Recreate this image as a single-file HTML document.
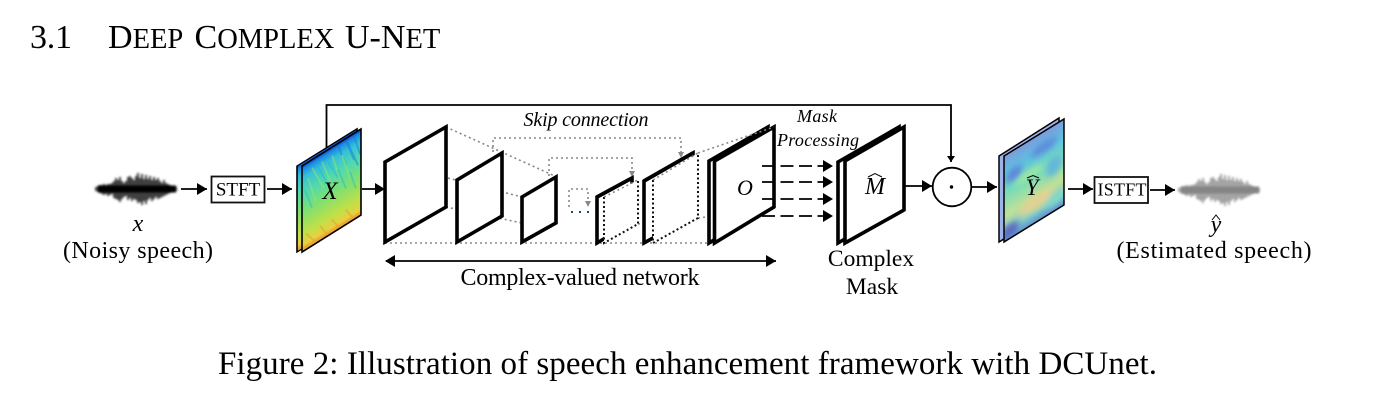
<!DOCTYPE html>
<html><head><meta charset="utf-8">
<style>
html,body{margin:0;padding:0;background:#fff;width:1395px;height:413px;overflow:hidden}
svg{display:block}
text{font-family:"Liberation Serif",serif;fill:#000}
.it{font-style:italic}
.dot{fill:none;stroke:#888;stroke-width:1.6;stroke-dasharray:2 3}
.dotk{fill:none;stroke:#111;stroke-width:2;stroke-dasharray:2 2.5}
.pl{fill:#fff;stroke:#000;stroke-width:3.6;stroke-linejoin:miter}
.ln{stroke:#000;stroke-width:1.8;fill:none}
</style></head><body>
<svg width="1395" height="413" viewBox="0 0 1395 413" xmlns="http://www.w3.org/2000/svg">
<defs>
<marker id="a" markerUnits="userSpaceOnUse" markerWidth="11" markerHeight="12" refX="10" refY="6" orient="auto"><path d="M0 0L10 6L0 12z" fill="#000"/></marker>
<marker id="b" markerUnits="userSpaceOnUse" markerWidth="11" markerHeight="12" refX="1" refY="6" orient="auto"><path d="M10 0L0 6L10 12z" fill="#000"/></marker>
<marker id="s" markerUnits="userSpaceOnUse" markerWidth="7" markerHeight="8" refX="6" refY="4" orient="auto"><path d="M0 0L6 4L0 8z" fill="#000"/></marker>
<linearGradient id="sp" x1="0" y1="0" x2="0" y2="1">
<stop offset="0" stop-color="#0a3fd0"/><stop offset=".04" stop-color="#1a8ae0"/><stop offset=".14" stop-color="#35c0d8"/><stop offset=".32" stop-color="#50d8b0"/><stop offset=".55" stop-color="#80e070"/><stop offset=".8" stop-color="#c0e048"/><stop offset=".93" stop-color="#e8d040"/><stop offset=".97" stop-color="#f0a030"/><stop offset="1" stop-color="#e8c030"/>
</linearGradient>
<linearGradient id="yg" x1="0" y1="0" x2="0" y2="1">
<stop offset="0" stop-color="#7d9bdc"/><stop offset=".2" stop-color="#5fc0e0"/><stop offset=".45" stop-color="#78dcb8"/><stop offset=".7" stop-color="#c0e098"/><stop offset=".88" stop-color="#80d0c8"/><stop offset="1" stop-color="#5f90d0"/>
</linearGradient>
<filter id="bl" x="-10%" y="-10%" width="120%" height="120%"><feGaussianBlur stdDeviation="1"/></filter>
<filter id="bl2" x="-30%" y="-30%" width="160%" height="160%"><feGaussianBlur stdDeviation="3"/></filter>
<clipPath id="cx"><rect x="0" y="-86" width="59" height="86"/></clipPath>
<clipPath id="cy"><rect x="0" y="-86" width="60" height="86"/></clipPath>
<g id="wave">
<path stroke-width="2" opacity=".75" fill="none" d="M1 -2V2M3 -3V3M5 -4V4M7 -4V5M9 -5V6M11 -4V5M13 -5V7M15 -5V6M17 -6V5M19 -8V9M21 -11V10M23 -9V11M25 -12V13M27 -8V10M29 -6V8M31 -8V7M33 -12V11M35 -13V9M37 -11V12M39 -9V10M41 -13V11M43 -16V14M45 -11V13M47 -15V16M49 -10V12M51 -14V15M53 -10V11M55 -13V9M57 -9V12M59 -12V10M61 -9V8M63 -11V10M65 -8V9M67 -6V8M69 -9V7M71 -6V6M73 -5V5M75 -4V4M77 -3V3M79 -3V2M81 -2V2"/>
<path stroke-width="7" fill="none" d="M3 0H81"/>
</g>
</defs>

<!-- heading -->
<text x="30" y="48" font-size="34" textLength="42">3.1</text>
<text y="48" font-size="34"><tspan x="108">D</tspan><tspan font-size="28.500">EEP</tspan></text>
<text y="48" font-size="34"><tspan x="194.500">C</tspan><tspan font-size="28.500">OMPLEX</tspan></text>
<text y="48" font-size="34"><tspan x="345">U-N</tspan><tspan font-size="28.500">ET</tspan></text>

<!-- top feedback line -->
<path class="ln" d="M326.500 148V105H951V162" marker-end="url(#s)"/>

<!-- left wave -->
<g transform="translate(95 189)" stroke="#000" filter="url(#bl)"><use href="#wave"/></g>
<text x="138" y="231" font-size="24" class="it" text-anchor="middle">x</text>
<text x="138" y="258" font-size="24" text-anchor="middle" textLength="150">(Noisy speech)</text>
<path class="ln" d="M181 189H207" marker-end="url(#a)"/>
<rect x="211.500" y="176.500" width="53" height="26" fill="#fff" stroke="#111" stroke-width="1.800"/>
<text x="238" y="195.500" font-size="19" text-anchor="middle">STFT</text>
<path class="ln" d="M267 189H292" marker-end="url(#a)"/>

<!-- X spectrogram -->
<g transform="matrix(1 -0.62 0 1 297 252)">
<rect x="0" y="-86" width="60" height="86" fill="url(#sp)" stroke="#000" stroke-width="1.600"/>
</g>
<g transform="matrix(1 -0.62 0 1 302 252)">
<g clip-path="url(#cx)">
<rect x="0" y="-86" width="59" height="86" fill="url(#sp)"/>
<g stroke-width="1.500" opacity=".45">
<path stroke="#1070e0" d="M52 -84L58 -62M44 -84L52 -60M36 -84L44 -60M46 -80L56 -52"/>
<path stroke="#a0e860" d="M10 -78L22 -50M20 -78L30 -48M30 -78L38 -50M6 -70L14 -42M40 -72L48 -44"/>
<path stroke="#20b8d0" d="M14 -80L24 -56M26 -74L36 -52M3 -60L10 -38M36 -60L44 -36M48 -50L54 -30"/>
<path stroke="#e09a30" d="M4 -16L12 -4M18 -15L24 -4M30 -14L36 -3M44 -15L50 -4"/>
</g>
</g>
</g>
<path d="M302 166L361 129V215L302 252z" fill="none" stroke="#000" stroke-width="1.600"/>
<text x="330" y="199" font-size="25" class="it" text-anchor="middle">X</text>
<path class="ln" d="M362 189H385" marker-end="url(#a)"/>

<!-- dotted connectors -->
<path class="dot" d="M446 127L557 177M385 162L522 197M446 207L522 223M385 243H714"/>
<path class="dot" d="M638 224L650 222M698 218L714 216"/>

<!-- encoder -->
<path class="pl" d="M385 162L446 127V207L385 242z"/>
<path class="pl" d="M457 180L502 153V216L457 242z"/>
<path class="pl" d="M522 197L556 177V223L522 242z"/>

<!-- skip -->
<path class="dot" d="M493 152V138H681V156"/>
<path d="M681 158l-3-6h6z" fill="#888"/>
<path class="dot" d="M549 176V158H632V175"/>
<path d="M632 177l-3-6h6z" fill="#888"/>
<path class="dot" d="M569 207V189H588V204"/>
<path d="M588 207l-3-6h6z" fill="#888"/>
<text x="586" y="126" font-size="20" class="it" text-anchor="middle" textLength="125">Skip connection</text>
<path d="M571 212h2M579 212h2M587 212h2" stroke="#134a6b" stroke-width="2"/>

<!-- decoder -->
<path class="pl" d="M597 197L632 178V222L597 243z"/>
<path style="fill:#fff;stroke:none" d="M604 197L638 180V224L604 243z"/>
<path class="pl" style="fill:none" d="M597 197L632 178"/>
<path class="dotk" d="M604 197V243L638 224V180"/>
<path class="dot" d="M604 197L638 180"/>
<path class="pl" d="M644 181L693 153V216L644 243z"/>
<path style="fill:#fff;stroke:none" d="M653 180L698 153V218L653 243z"/>
<path class="pl" style="fill:none" d="M644 181L693 153"/>
<path class="dotk" d="M653 180V243L698 218V153"/>
<path class="dot" d="M653 180L698 153"/>
<path class="pl" d="M709 161L768 127V207L709 243z"/>
<path class="pl" d="M714.500 161L774 127V207L714.500 243z"/>
<path class="dot" d="M698 153L774 127"/>
<text x="745" y="195" font-size="22" class="it" text-anchor="middle">O</text>

<!-- dashed arrows -->
<g class="ln" stroke-dasharray="13 5.500">
<path d="M762 166H833" marker-end="url(#a)"/>
<path d="M762 182H833" marker-end="url(#a)"/>
<path d="M762 199H833" marker-end="url(#a)"/>
<path d="M762 216H833" marker-end="url(#a)"/>
</g>
<text x="817" y="122" font-size="18" class="it" text-anchor="middle" textLength="40">Mask</text>
<text x="818" y="146" font-size="18" class="it" text-anchor="middle" textLength="82">Processing</text>

<!-- M -->
<path class="pl" d="M838 162L899 127V207L838 243z"/>
<path class="pl" d="M845 161L904 127V210L845 243z"/>
<text x="875" y="194" font-size="24" class="it" text-anchor="middle">M</text>
<path d="M868 177L875 173.500L882 177" fill="none" stroke="#000" stroke-width="1"/>
<path class="ln" d="M905 186H932" marker-end="url(#a)"/>

<!-- circle -->
<circle cx="952" cy="187" r="19.300" fill="#fff" stroke="#000" stroke-width="1.800"/>
<circle cx="951.500" cy="187" r="1.700" fill="#000"/>
<path class="ln" d="M972 187H997" marker-end="url(#a)"/>

<!-- Y spectrogram -->
<path d="M999 156L1059 118V205L999 242z" fill="#9fb2ea" stroke="#000" stroke-width="1.500"/>
<g transform="matrix(1 -0.62 0 1 1004 242)">
<g clip-path="url(#cy)">
<rect x="0" y="-86" width="60" height="86" fill="url(#yg)"/>
<g filter="url(#bl2)" opacity=".85">
<ellipse cx="10" cy="-62" rx="8" ry="7" fill="#5f80d8"/>
<ellipse cx="40" cy="-70" rx="13" ry="6" fill="#5f88dc"/>
<ellipse cx="25" cy="-52" rx="14" ry="5" fill="#a0e8a0"/>
<ellipse cx="50" cy="-45" rx="8" ry="9" fill="#60b0e0"/>
<ellipse cx="32" cy="-20" rx="17" ry="8" fill="#e8d090"/>
<ellipse cx="6" cy="-8" rx="9" ry="7" fill="#5a60c0"/>
<ellipse cx="50" cy="-12" rx="8" ry="6" fill="#80d8c8"/>
</g>
</g>
</g>
<path d="M1004 156L1064 119V205L1004 242z" fill="none" stroke="#000" stroke-width="1.500"/>
<text x="1032" y="195" font-size="23" class="it" text-anchor="middle">Y</text>
<path d="M1027 178L1033 175.500L1039 178" fill="none" stroke="#000" stroke-width="1"/>

<!-- ISTFT -->
<path class="ln" d="M1068 189H1093" marker-end="url(#a)"/>
<rect x="1094.500" y="177" width="53.500" height="26" fill="#fff" stroke="#111" stroke-width="1.800"/>
<text x="1122" y="195.500" font-size="18" text-anchor="middle" textLength="49">ISTFT</text>
<path class="ln" d="M1150 190H1175" marker-end="url(#a)"/>
<g transform="translate(1178 190)" stroke="#858585" filter="url(#bl)"><use href="#wave"/></g>
<text x="1216" y="232" font-size="24" class="it" text-anchor="middle">y</text>
<path d="M1212 220L1216 215L1220 220" fill="none" stroke="#000" stroke-width="1"/>
<text x="1214" y="258" font-size="24" text-anchor="middle" textLength="195">(Estimated speech)</text>

<!-- bottom labels -->
<path class="ln" d="M386 261H776" marker-start="url(#b)" marker-end="url(#a)"/>
<text x="580" y="285" font-size="24" text-anchor="middle" textLength="239">Complex-valued network</text>
<text x="871" y="266" font-size="23.500" text-anchor="middle">Complex</text>
<text x="872" y="294" font-size="23.500" text-anchor="middle">Mask</text>

<text x="218" y="374" font-size="33" textLength="939">Figure 2: Illustration of speech enhancement framework with DCUnet.</text>
</svg>
</body></html>
